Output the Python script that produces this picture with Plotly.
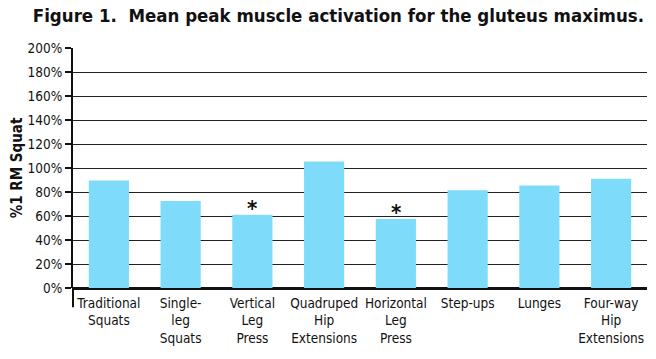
import plotly.graph_objects as go

categories = ["Traditional<br>Squats", "Single-<br>leg<br>Squats", "Vertical<br>Leg<br>Press",
              "Quadruped<br>Hip<br>Extensions", "Horizontal<br>Leg<br>Press", "Step-ups",
              "Lunges", "Four-way<br>Hip<br>Extensions"]
values = [89.5, 72.5, 61, 105.5, 57.5, 81.5, 85.5, 91]
significant = [False, False, True, False, True, False, False, False]
y_ticks = list(range(0, 201, 20))
y_tick_labels = [f"{v}%" for v in y_ticks]

FONT = "DejaVu Sans Condensed, Roboto Condensed, Liberation Sans Narrow, sans-serif"

fig = go.Figure()
fig.add_trace(go.Bar(x=categories, y=values, marker=dict(color="#7fdbfa", line=dict(width=0)),
                     hoverinfo="skip"))

for c, v, s in zip(categories, values, significant):
    if s:
        fig.add_annotation(x=c, y=v, text="<b>*</b>", showarrow=False, yanchor="bottom",
                           yshift=-8, font=dict(size=22, color="#111", family=FONT))

fig.update_layout(
    width=656, height=359,
    margin=dict(l=73, r=9, t=48, b=71, autoexpand=False),
    paper_bgcolor="white", plot_bgcolor="white",
    bargap=0.44,
    showlegend=False,
    title=dict(text="<b>Figure 1.  Mean peak muscle activation for the gluteus maximus.</b>",
               xref="container", x=0.05, xanchor="left", yref="container", y=0.975, yanchor="top",
               pad=dict(l=0, r=0, t=0, b=0),
               font=dict(family=FONT, size=18.5, color="#111")),
    font=dict(family=FONT, color="#111"),
)
fig.update_xaxes(type="category", showgrid=False, showline=False, ticks="", automargin=False,
                 tickfont=dict(size=13.5, family=FONT, color="#111"), ticklabelstandoff=5)
fig.update_yaxes(range=[0, 200], tickvals=y_ticks, ticktext=y_tick_labels, automargin=False,
                 showgrid=True, gridcolor="#222", gridwidth=1.3,
                 showline=True, linecolor="#111", linewidth=2,
                 ticks="outside", ticklen=6, tickcolor="#111", tickwidth=1.5,
                 zeroline=True, zerolinecolor="#111", zerolinewidth=2.5,
                 tickfont=dict(size=13.5, family=FONT, color="#111"),
                 title=dict(text="<b>%1 RM Squat</b>", font=dict(size=15, family=FONT, color="#111"),
                            standoff=1))

fig.add_shape(type="line", xref="paper", yref="paper", x0=0, x1=0, y0=0, y1=-0.08,
              line=dict(color="#111", width=2))

fig.write_html("out.html", config={"displayModeBar": False},
               post_script="document.body.style.margin='0';")
